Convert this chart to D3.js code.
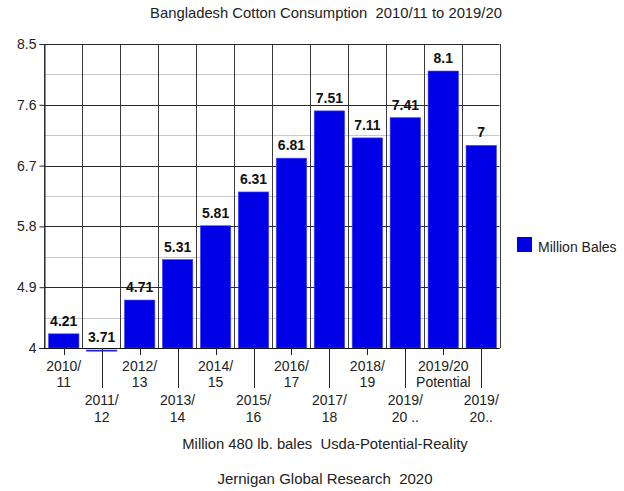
<!DOCTYPE html>
<html>
<head>
<meta charset="utf-8">
<script src="https://cdn.jsdelivr.net/npm/d3@7"></script>
<style>
  html, body { margin: 0; padding: 0; background: #fff; }
  svg { display: block; font-family: "Liberation Sans", Arial, sans-serif; }
  text { white-space: pre; }
</style>
</head>
<body>
<svg id="chart" width="624" height="491"></svg>
<script>
// Bangladesh cotton consumption, million 480 lb. bales
const categories = [
  "2010/11", "2011/12", "2012/13", "2013/14", "2014/15", "2015/16",
  "2016/17", "2017/18", "2018/19", "2019/20 ..", "2019/20 Potential", "2019/20.."
];
const categoryLines = [
  ["2010/", "11"], ["2011/", "12"], ["2012/", "13"], ["2013/", "14"],
  ["2014/", "15"], ["2015/", "16"], ["2016/", "17"], ["2017/", "18"],
  ["2018/", "19"], ["2019/", "20 .."], ["2019/20", "Potential"], ["2019/", "20.."]
];
const values = [4.21, 3.71, 4.71, 5.31, 5.81, 6.31, 6.81, 7.51, 7.11, 7.41, 8.1, 7];
const yTicks = [4, 4.9, 5.8, 6.7, 7.6, 8.5];
const seriesName = "Million Bales";
const titleText = "Bangladesh Cotton Consumption  2010/11 to 2019/20";
const axisTitle = "Million 480 lb. bales  Usda-Potential-Reality";
const sourceText = "Jernigan Global Research  2020";

const svg = d3.select("#chart");
const plotL = 44, plotR = 499.5, plotT = 44, plotB = 348;
const barColor = "#0000e6";

const x = d3.scaleBand().domain(categories).range([plotL, plotR]).padding(0);
const y = d3.scaleLinear().domain([yTicks[0], yTicks[yTicks.length - 1]]).range([plotB, plotT]);
const bw = x.bandwidth();
const barOff = 4.5, barW = bw - 7.5;
const center = c => x(c) + barOff + barW / 2;

// minor horizontal gridlines halfway between major ticks
const minor = d3.pairs(yTicks).map(([a, b]) => (a + b) / 2);
svg.append("g").selectAll("line").data(minor).join("line")
  .attr("x1", plotL).attr("x2", plotR)
  .attr("y1", d => Math.round(y(d)) + 0.5).attr("y2", d => Math.round(y(d)) + 0.5)
  .attr("stroke", "#c8c8c8").attr("stroke-width", 1);

// vertical gridlines at category boundaries
const bounds = categories.map(c => x(c)).concat([plotR]);
svg.append("g").selectAll("line").data(bounds).join("line")
  .attr("x1", d => Math.round(d) + 0.5).attr("x2", d => Math.round(d) + 0.5)
  .attr("y1", plotT).attr("y2", plotB)
  .attr("stroke", "#3a3a3a").attr("stroke-width", 1);

// major horizontal gridlines
svg.append("g").selectAll("line").data(yTicks).join("line")
  .attr("x1", plotL).attr("x2", plotR)
  .attr("y1", d => Math.round(y(d)) + 0.5).attr("y2", d => Math.round(y(d)) + 0.5)
  .attr("stroke", "#2a2a2a").attr("stroke-width", 1);

// bars (values below the axis minimum are clipped to a thin line under the axis)
const base = y.domain()[0];
svg.append("g").selectAll("rect").data(values).join("rect")
  .attr("x", (d, i) => x(categories[i]) + barOff)
  .attr("width", barW)
  .attr("y", d => d >= base ? y(d) : plotB + 2)
  .attr("height", d => d >= base ? y(base) - y(d) : 1.2)
  .attr("fill", barColor)
  .attr("stroke", "#4d4dff").attr("stroke-width", 0.6);

// value labels
svg.append("g").selectAll("text").data(values).join("text")
  .attr("x", (d, i) => center(categories[i]))
  .attr("y", d => d >= base ? y(d) - 8 : y(base) - 6.5)
  .attr("text-anchor", "middle")
  .attr("font-size", 14).attr("font-weight", "bold").attr("fill", "#111")
  .text(d => d);

// y axis
const yAxis = d3.axisLeft(y).tickValues(yTicks).tickSize(5).tickPadding(3)
  .tickFormat(d3.format("~g"));
const yg = svg.append("g").attr("transform", `translate(${plotL + 0.5},0)`).call(yAxis);
yg.select(".domain").attr("stroke", "#222");
yg.selectAll(".tick line").attr("stroke", "#222");
yg.selectAll(".tick text").attr("font-size", 14).attr("fill", "#222")
  .attr("font-family", "Liberation Sans, Arial, sans-serif");

// x axis line
svg.append("line").attr("x1", plotL).attr("x2", plotR)
  .attr("y1", plotB + 0.5).attr("y2", plotB + 0.5)
  .attr("stroke", "#111").attr("stroke-width", 1.2);

// x ticks, staggered labels
const xg = svg.append("g");
categories.forEach((c, i) => {
  const cx = Math.round(center(c)) + 0.5;
  const low = i % 2 === 1;
  xg.append("line").attr("x1", cx).attr("x2", cx)
    .attr("y1", plotB).attr("y2", low ? 388 : 355)
    .attr("stroke", "#222");
  const t = xg.append("text").attr("text-anchor", "middle")
    .attr("font-size", 14).attr("fill", "#222");
  categoryLines[i].forEach((ln, k) => {
    t.append("tspan").attr("x", center(c))
      .attr("y", (low ? 405 : 370.5) + k * 16.5).text(ln);
  });
});

// titles
svg.append("text").attr("x", 326).attr("y", 18).attr("text-anchor", "middle")
  .attr("font-size", 14.8).attr("fill", "#222").text(titleText);
svg.append("text").attr("x", 325).attr("y", 448.5).attr("text-anchor", "middle")
  .attr("font-size", 14.8).attr("fill", "#222").text(axisTitle);
svg.append("text").attr("x", 325).attr("y", 483.5).attr("text-anchor", "middle")
  .attr("font-size", 15).attr("fill", "#222").text(sourceText);

// legend
const lg = svg.append("g").attr("transform", "translate(517,237)");
lg.append("rect").attr("width", 15).attr("height", 15).attr("fill", barColor);
lg.append("text").attr("x", 21).attr("y", 14.5).attr("font-size", 14)
  .attr("fill", "#222").text(seriesName);
</script>
</body>
</html>
